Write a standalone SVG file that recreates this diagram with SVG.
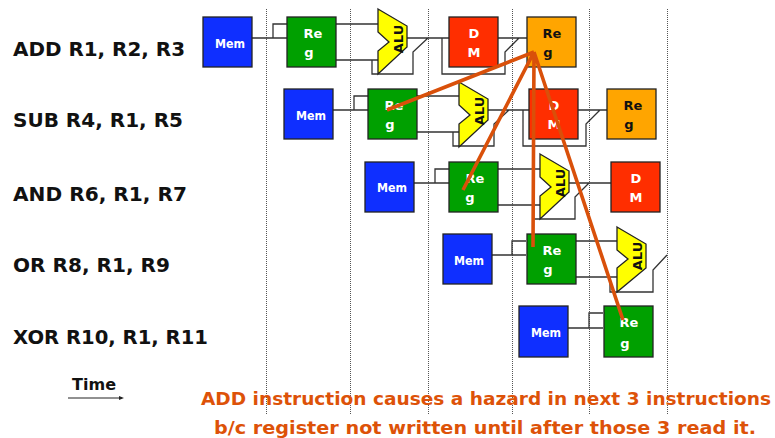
<svg xmlns="http://www.w3.org/2000/svg" width="775" height="438" viewBox="0 0 775 438">
<style>
.g{stroke:#555;stroke-width:1;stroke-dasharray:1 1;fill:none}
.w{stroke:#333;stroke-width:1.3;fill:none}
.b{stroke:#222;stroke-width:1.3}
.t{font-family:"DejaVu Sans",sans-serif;font-weight:bold;font-size:13px;text-anchor:middle}
.l{font-family:"DejaVu Sans",sans-serif;font-weight:bold;font-size:19.5px;fill:#111}
.o{font-family:"DejaVu Sans",sans-serif;font-weight:bold;font-size:18.4px;fill:#DD5208;text-anchor:middle}
.h{stroke:#D9500A;stroke-width:3.6;fill:none}
</style>
<rect width="775" height="438" fill="#fff"/>
<g id="grid">
<path class="g" d="M266.5 9V415M350.5 9V415M428.5 9V415M512.5 9V415M589.5 9V415M667.5 9V415"/>
</g>
<g id="connectors">
<path class="w" d="M252 38H287M273 38V24H287M336 24H378M336 60H378M372 60V74H413V52L428 38M407 38H449M442 38V74H505V52L519 38M498 38H527"/>
<path class="w" d="M333 110H368M354 110V96H368M417 96H459M417 132H459M453 132V146H494V124L509 110M488 110H529M523 110V146H586V124L600 110M578 110H607"/>
<path class="w" d="M414 183H449M435 183V169H449M498 169H540M498 205H540M533 205V219H575V197L589 183M569 183H611"/>
<path class="w" d="M492 255H526M512 255V241H526M576 241H617M576 277H617M610 277V292H653V270L667 255"/>
<path class="w" d="M568 328H603M589 328V313H603"/>
</g>
<g id="row1">
<g id="mem1"><rect class="b" x="203" y="17" width="49" height="50" fill="#0F2FFF"/><text class="t" x="230" y="48" fill="#fff" textLength="30" lengthAdjust="spacingAndGlyphs">Mem</text></g>
<g id="reg1"><rect class="b" x="287" y="17" width="49" height="50" fill="#00A000"/><text class="t" x="313" y="38" fill="#fff">Re</text><text class="t" x="309" y="57" fill="#fff">g</text></g>
<g id="alu1"><polygon class="b" points="378,9 407,26 407,47 378,74 378,51 389,42 378,32" fill="#FFFF00"/><text class="t" transform="translate(403,39) rotate(-90)" fill="#111">ALU</text></g>
<g id="dm1"><rect class="b" x="449" y="17" width="49" height="50" fill="#FF2E00"/><text class="t" x="474" y="38" fill="#fff">D</text><text class="t" x="474" y="57" fill="#fff">M</text></g>
<g id="wb1"><rect class="b" x="527" y="17" width="49" height="50" fill="#FFA500"/><text class="t" x="552" y="38" fill="#111">Re</text><text class="t" x="548" y="57" fill="#111">g</text></g>
</g>
<g id="row2">
<g id="mem2"><rect class="b" x="284" y="89" width="49" height="50" fill="#0F2FFF"/><text class="t" x="311" y="120" fill="#fff" textLength="30" lengthAdjust="spacingAndGlyphs">Mem</text></g>
<g id="reg2"><rect class="b" x="368" y="89" width="49" height="50" fill="#00A000"/><text class="t" x="394" y="110" fill="#fff">Re</text><text class="t" x="390" y="129" fill="#fff">g</text></g>
<g id="alu2"><polygon class="b" points="459,82 488,99 488,120 459,147 459,124 470,115 459,105" fill="#FFFF00"/><text class="t" transform="translate(484,111) rotate(-90)" fill="#111">ALU</text></g>
<g id="dm2"><rect class="b" x="529" y="89" width="49" height="50" fill="#FF2E00"/><text class="t" x="554" y="110" fill="#fff">D</text><text class="t" x="554" y="129" fill="#fff">M</text></g>
<g id="wb2"><rect class="b" x="607" y="89" width="49" height="50" fill="#FFA500"/><text class="t" x="633" y="110" fill="#111">Re</text><text class="t" x="629" y="129" fill="#111">g</text></g>
</g>
<g id="row3">
<g id="mem3"><rect class="b" x="365" y="162" width="49" height="50" fill="#0F2FFF"/><text class="t" x="392" y="192" fill="#fff" textLength="30" lengthAdjust="spacingAndGlyphs">Mem</text></g>
<g id="reg3"><rect class="b" x="449" y="162" width="49" height="50" fill="#00A000"/><text class="t" x="475" y="183" fill="#fff">Re</text><text class="t" x="470" y="202" fill="#fff">g</text></g>
<g id="alu3"><polygon class="b" points="540,154 569,171 569,192 540,219 540,196 551,187 540,177" fill="#FFFF00"/><text class="t" transform="translate(565,183) rotate(-90)" fill="#111">ALU</text></g>
<g id="dm3"><rect class="b" x="611" y="162" width="49" height="50" fill="#FF2E00"/><text class="t" x="636" y="183" fill="#fff">D</text><text class="t" x="636" y="202" fill="#fff">M</text></g>
</g>
<g id="row4">
<g id="mem4"><rect class="b" x="443" y="234" width="49" height="50" fill="#0F2FFF"/><text class="t" x="469" y="265" fill="#fff" textLength="30" lengthAdjust="spacingAndGlyphs">Mem</text></g>
<g id="reg4"><rect class="b" x="527" y="234" width="49" height="50" fill="#00A000"/><text class="t" x="552" y="255" fill="#fff">Re</text><text class="t" x="548" y="274" fill="#fff">g</text></g>
<g id="alu4"><polygon class="b" points="617,227 646,244 646,268 617,292 617,268 628,259 617,250" fill="#FFFF00"/><text class="t" transform="translate(642,256) rotate(-90)" fill="#111">ALU</text></g>
</g>
<g id="row5">
<g id="mem5"><rect class="b" x="519" y="306" width="49" height="51" fill="#0F2FFF"/><text class="t" x="546" y="337" fill="#fff" textLength="30" lengthAdjust="spacingAndGlyphs">Mem</text></g>
<g id="reg5"><rect class="b" x="604" y="306" width="49" height="51" fill="#00A000"/><text class="t" x="629" y="327" fill="#fff">Re</text><text class="t" x="625" y="348" fill="#fff">g</text></g>
</g>
<g id="hazards">
<path class="h" d="M534 52L387 110M534 52L463 190M534 52L533 247M534 52L623 320"/>
</g>
<g id="labels">
<text class="l" x="13" y="56" textLength="172" lengthAdjust="spacingAndGlyphs">ADD R1, R2, R3</text>
<text class="l" x="13" y="127" textLength="170" lengthAdjust="spacingAndGlyphs">SUB R4, R1, R5</text>
<text class="l" x="13" y="201" textLength="174" lengthAdjust="spacingAndGlyphs">AND R6, R1, R7</text>
<text class="l" x="13" y="272" textLength="157" lengthAdjust="spacingAndGlyphs">OR R8, R1, R9</text>
<text class="l" x="13" y="344" textLength="195" lengthAdjust="spacingAndGlyphs">XOR R10, R1, R11</text>
<text class="l" x="72" y="390" style="font-size:16px" textLength="44" lengthAdjust="spacingAndGlyphs">Time</text>
<path d="M68 398H122" stroke="#222" stroke-width="1" fill="none"/><path d="M124 398L119 396V400Z" fill="#222"/>
<text class="o" x="486" y="405" textLength="570" lengthAdjust="spacingAndGlyphs">ADD instruction causes a hazard in next 3 instructions</text>
<text class="o" x="485" y="434" textLength="542" lengthAdjust="spacingAndGlyphs">b/c register not written until after those 3 read it.</text>
</g>
</svg>
